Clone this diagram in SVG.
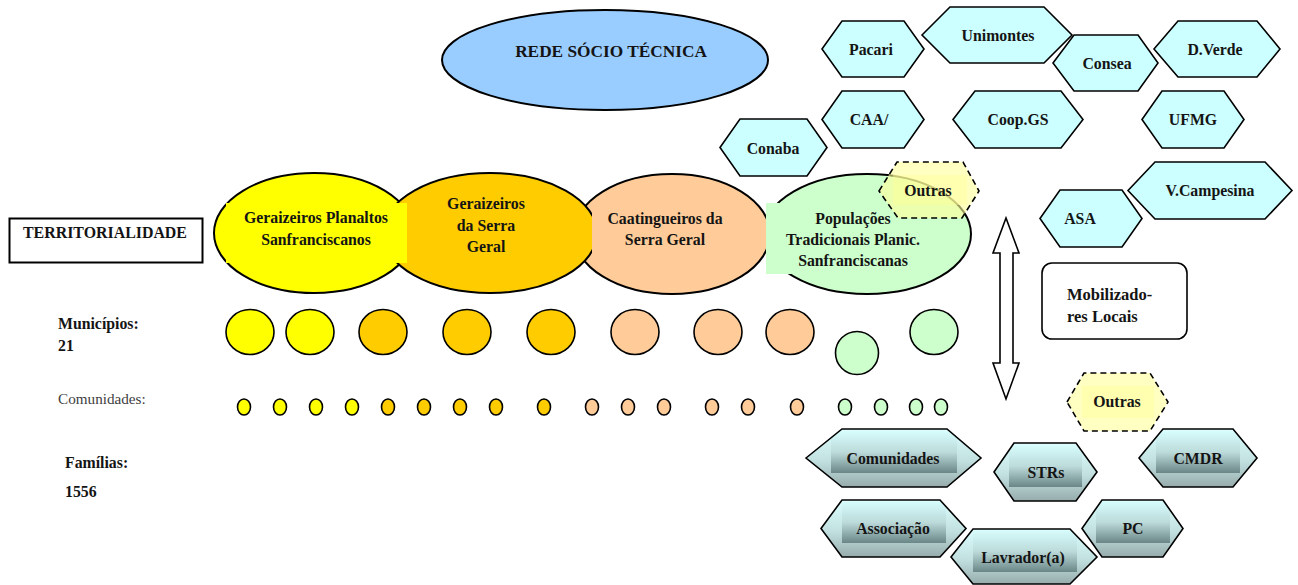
<svg xmlns="http://www.w3.org/2000/svg" width="1298" height="585" viewBox="0 0 1298 585">
<style>
  text { font-family: "Liberation Serif", "Times New Roman", serif; font-weight: bold; font-size: 15.8px; fill: #141414; }
  .ell { stroke: #000; stroke-width: 2; }
  .hex { fill: #CCFFFF; stroke: #000; stroke-width: 1.6; stroke-linejoin: miter; }
  .dash { fill: #FFFF99; fill-opacity: 0.6; stroke: #000; stroke-width: 1.6; stroke-dasharray: 6 4; }
  .inner { fill: #FFFF99; fill-opacity: 0.45; }
  .bh { fill: url(#hexg); }
  .tb { fill: url(#boxg); }
  .ol { fill: none; stroke: #000; stroke-width: 1.6; }
  .c { stroke: #000; stroke-width: 1.6; }
  .y { fill: #FFFF00; } .g { fill: #FFCC00; } .o { fill: #FFCC99; } .gr { fill: #CCFFCC; }
  .mid { text-anchor: middle; }
  .reg { font-weight: normal; fill: #404040; font-size: 15.2px; }
</style>
<defs>
  <linearGradient id="hexg" x1="0" y1="0" x2="0" y2="1">
    <stop offset="0" stop-color="#DCFEFE"/>
    <stop offset="0.55" stop-color="#C2E0E0"/>
    <stop offset="1" stop-color="#97ACAC"/>
  </linearGradient>
  <linearGradient id="boxg" x1="0" y1="0" x2="0" y2="1">
    <stop offset="0" stop-color="#D6FBFB"/>
    <stop offset="0.5" stop-color="#BCDADA"/>
    <stop offset="1" stop-color="#6A8686"/>
  </linearGradient>
  <polygon id="p-com" points="806,458 842,429 947,429 981,458 947,487 842,487"/>
  <polygon id="p-str" points="994,472 1014,443 1076,443 1097,472 1076,501 1014,501"/>
  <polygon id="p-cmdr" points="1139,458 1163,429 1233,429 1257,458 1233,487 1163,487"/>
  <polygon id="p-ass" points="821,528.5 842,500 940,500 966,528.5 940,557 842,557"/>
  <polygon id="p-lav" points="951,557 973,529 1070,529 1097,557 1070,584 973,584"/>
  <polygon id="p-pc" points="1082,528.5 1102,500 1163,500 1183,528.5 1163,557 1102,557"/>
  <clipPath id="c-com"><use href="#p-com"/></clipPath>
  <clipPath id="c-str"><use href="#p-str"/></clipPath>
  <clipPath id="c-cmdr"><use href="#p-cmdr"/></clipPath>
  <clipPath id="c-ass"><use href="#p-ass"/></clipPath>
  <clipPath id="c-lav"><use href="#p-lav"/></clipPath>
  <clipPath id="c-pc"><use href="#p-pc"/></clipPath>
</defs>
<rect width="1298" height="585" fill="#fff"/>

<g id="rede">
  <ellipse cx="605" cy="60" rx="163" ry="50" fill="#99CCFF" class="ell"/>
  <text x="611" y="57" class="mid" style="font-size:17.3px">REDE SÓCIO TÉCNICA</text>
</g>

<!-- territory ellipses -->
<g id="territorios">
  <ellipse id="e4" cx="867" cy="234" rx="104" ry="60" class="ell gr"/>
  <ellipse id="e3" cx="672" cy="234" rx="98" ry="60" class="ell o"/>
  <ellipse id="e1" cx="314" cy="233" rx="100" ry="60" class="ell y"/>
  <ellipse id="e2" cx="490" cy="233" rx="107" ry="60" class="ell g"/>
  <rect x="226" y="203" width="181" height="60" class="y"/>
  <rect x="592" y="206" width="150" height="54" class="o"/>
  <rect x="766" y="203" width="174" height="71" class="gr"/>
</g>
<g id="n-geraizeiros-planaltos">
  <text x="316" y="223" class="mid">Geraizeiros Planaltos</text>
  <text x="316" y="245" class="mid">Sanfranciscanos</text>
</g>
<g id="n-geraizeiros-serra">
  <text x="486" y="209" class="mid">Geraizeiros</text>
  <text x="486" y="231" class="mid">da Serra</text>
  <text x="486" y="252" class="mid">Geral</text>
</g>
<g id="n-caatingueiros">
  <text x="665" y="224" class="mid">Caatingueiros da</text>
  <text x="665" y="245" class="mid">Serra Geral</text>
</g>
<g id="n-populacoes">
  <text x="853" y="224" class="mid">Populações</text>
  <text x="853" y="245" class="mid">Tradicionais Planic.</text>
  <text x="853" y="266" class="mid">Sanfranciscanas</text>
</g>

<!-- top hexagons -->
<g id="n-pacari"><polygon class="hex" points="822,49 842,21 904,21 924,49 904,77 842,77"/><text x="871" y="55" class="mid">Pacari</text></g>
<g id="n-unimontes"><polygon class="hex" points="922,35 950,7 1044,7 1072,35 1044,63 950,63"/><text x="998" y="41" class="mid">Unimontes</text></g>
<g id="n-consea"><polygon class="hex" points="1053,63 1074,35 1138,35 1158,63 1138,91 1074,91"/><text x="1107" y="69" class="mid">Consea</text></g>
<g id="n-dverde"><polygon class="hex" points="1154,49 1178,21 1257,21 1280,49 1257,77 1178,77"/><text x="1215" y="55" class="mid">D.Verde</text></g>
<g id="n-caa"><polygon class="hex" points="822,119.5 842,91 904,91 924,119.5 904,148 842,148"/><text x="869" y="125" class="mid">CAA/</text></g>
<g id="n-coop"><polygon class="hex" points="953,119.5 975,91 1061,91 1083,119.5 1061,148 975,148"/><text x="1018" y="125" class="mid">Coop.GS</text></g>
<g id="n-ufmg"><polygon class="hex" points="1142,119.5 1162,91 1224,91 1244,119.5 1224,148 1162,148"/><text x="1193" y="125" class="mid">UFMG</text></g>
<g id="n-conaba"><polygon class="hex" points="720,147.5 740,119 807,119 827,147.5 807,176 740,176"/><text x="773" y="154" class="mid">Conaba</text></g>
<g id="n-asa"><polygon class="hex" points="1040,218.5 1060,190 1122,190 1142,218.5 1122,247 1060,247"/><text x="1080" y="224" class="mid">ASA</text></g>
<g id="n-vcampesina"><polygon class="hex" points="1128,190.5 1155,162 1265,162 1292,190.5 1265,219 1155,219"/><text x="1210" y="196" class="mid">V.Campesina</text></g>
<g id="n-outras-1">
  <polygon class="dash" points="879,191 897,162 963,162 979,191 962,218 898,218"/>
  <rect class="inner" x="893" y="175" width="74" height="30"/>
  <text x="928" y="196" class="mid">Outras</text>
</g>

<!-- left labels -->
<g id="n-territorialidade">
  <rect x="9.5" y="218.5" width="193" height="44" fill="#fff" stroke="#000" stroke-width="2"/>
  <text x="23" y="238" style="font-size:15.9px">TERRITORIALIDADE</text>
</g>
<g id="l-municipios"><text x="58" y="329">Municípios:</text><text x="58" y="351">21</text></g>
<g id="l-comunidades"><text x="58" y="404" class="reg">Comunidades:</text></g>
<g id="l-familias"><text x="65" y="468">Famílias:</text><text x="65" y="497">1556</text></g>

<!-- municipios circles -->
<g id="municipios">
  <ellipse cx="250" cy="332" rx="24" ry="22.5" class="c y"/>
  <ellipse cx="310" cy="332" rx="24" ry="22.5" class="c y"/>
  <ellipse cx="383" cy="332" rx="24" ry="22.5" class="c g"/>
  <ellipse cx="467" cy="332" rx="24" ry="22.5" class="c g"/>
  <ellipse cx="551" cy="332" rx="24" ry="22.5" class="c g"/>
  <ellipse cx="635" cy="332" rx="24" ry="22.5" class="c o"/>
  <ellipse cx="718" cy="332" rx="24" ry="22.5" class="c o"/>
  <ellipse cx="790" cy="332" rx="24" ry="22.5" class="c o"/>
  <ellipse cx="857" cy="353" rx="21.5" ry="21.5" class="c gr"/>
  <ellipse cx="934" cy="332" rx="24" ry="22.5" class="c gr"/>
</g>
<!-- comunidades dots -->
<g id="comunidades">
  <ellipse cx="244" cy="407" rx="6.5" ry="8" class="c y"/>
  <ellipse cx="280" cy="407" rx="6.5" ry="8" class="c y"/>
  <ellipse cx="316" cy="407" rx="6.5" ry="8" class="c y"/>
  <ellipse cx="352" cy="407" rx="6.5" ry="8" class="c y"/>
  <ellipse cx="388" cy="407" rx="6.5" ry="8" class="c g"/>
  <ellipse cx="424" cy="407" rx="6.5" ry="8" class="c g"/>
  <ellipse cx="460" cy="407" rx="6.5" ry="8" class="c g"/>
  <ellipse cx="496" cy="407" rx="6.5" ry="8" class="c g"/>
  <ellipse cx="544" cy="407" rx="6.5" ry="8" class="c g"/>
  <ellipse cx="592" cy="407" rx="6.5" ry="8" class="c o"/>
  <ellipse cx="628" cy="407" rx="6.5" ry="8" class="c o"/>
  <ellipse cx="664" cy="407" rx="6.5" ry="8" class="c o"/>
  <ellipse cx="712" cy="407" rx="6.5" ry="8" class="c o"/>
  <ellipse cx="748" cy="407" rx="6.5" ry="8" class="c o"/>
  <ellipse cx="797" cy="407" rx="6.5" ry="8" class="c o"/>
  <ellipse cx="845" cy="407" rx="6.5" ry="8" class="c gr"/>
  <ellipse cx="881" cy="407" rx="6.5" ry="8" class="c gr"/>
  <ellipse cx="916" cy="407" rx="6.5" ry="8" class="c gr"/>
  <ellipse cx="941" cy="407" rx="6.5" ry="8" class="c gr"/>
</g>

<g id="connectors">
  <polygon points="1006,218 1019,253 1013,253 1013,363 1019,363 1006,399 993,363 1000,363 1000,253 993,253" fill="#fff" stroke="#000" stroke-width="1.6" stroke-linejoin="miter"/>
</g>

<g id="n-mobilizadores">
  <rect x="1042" y="263" width="145" height="76" rx="10" fill="#fff" stroke="#000" stroke-width="1.6"/>
  <text x="1067" y="300" style="font-size:16.5px">Mobilizado-</text>
  <text x="1067" y="322" style="font-size:16.5px">res Locais</text>
</g>

<g id="n-outras-2">
  <polygon class="dash" points="1067,402 1084,373 1150,373 1168,402 1150,431 1084,431"/>
  <rect class="inner" x="1082" y="386" width="72" height="32"/>
  <text x="1117" y="407" class="mid">Outras</text>
</g>

<!-- bottom hexagons -->
<g id="n-comunidades">
  <use href="#p-com" class="bh"/>
  <rect class="tb" x="831" y="432" width="126" height="41" clip-path="url(#c-com)"/>
  <use href="#p-com" class="ol"/>
  <text x="893" y="464" class="mid">Comunidades</text>
</g>
<g id="n-strs">
  <use href="#p-str" class="bh"/>
  <rect class="tb" x="1009" y="446" width="73" height="41" clip-path="url(#c-str)"/>
  <use href="#p-str" class="ol"/>
  <text x="1046" y="478" class="mid">STRs</text>
</g>
<g id="n-cmdr">
  <use href="#p-cmdr" class="bh"/>
  <rect class="tb" x="1156" y="432" width="84" height="41" clip-path="url(#c-cmdr)"/>
  <use href="#p-cmdr" class="ol"/>
  <text x="1198" y="464" class="mid">CMDR</text>
</g>
<g id="n-associacao">
  <use href="#p-ass" class="bh"/>
  <rect class="tb" x="842" y="502" width="104" height="41" clip-path="url(#c-ass)"/>
  <use href="#p-ass" class="ol"/>
  <text x="893" y="534" class="mid">Associação</text>
</g>
<g id="n-lavrador">
  <use href="#p-lav" class="bh"/>
  <rect class="tb" x="973" y="531" width="104" height="41" clip-path="url(#c-lav)"/>
  <use href="#p-lav" class="ol"/>
  <text x="1023" y="563" class="mid">Lavrador(a)</text>
</g>
<g id="n-pc">
  <use href="#p-pc" class="bh"/>
  <rect class="tb" x="1096" y="502" width="74" height="41" clip-path="url(#c-pc)"/>
  <use href="#p-pc" class="ol"/>
  <text x="1133" y="534" class="mid">PC</text>
</g>
</svg>
